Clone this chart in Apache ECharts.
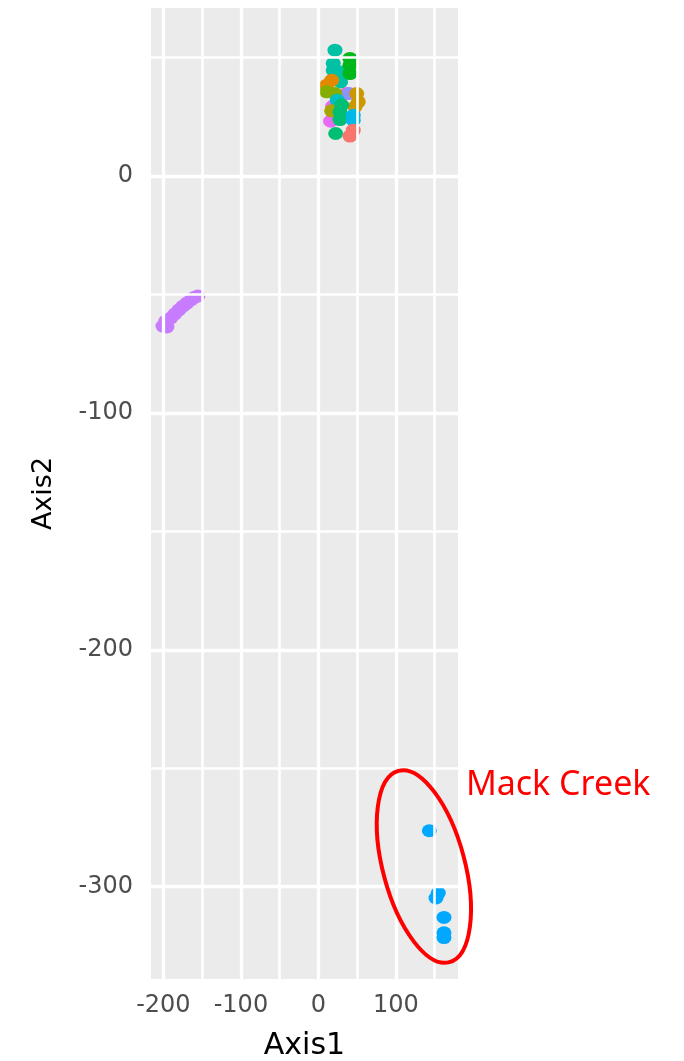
<!DOCTYPE html>
<html>
<head>
<meta charset="utf-8">
<title>Axis1 / Axis2</title>
<script src="https://cdn.jsdelivr.net/npm/echarts@6/dist/echarts.min.js"></script>
<style>
  html, body { margin: 0; padding: 0; background: #fff; }
  #container { width: 684px; height: 1061px; }
</style>
</head>
<body>
<div id="container"></div>
<script type="text/javascript">
// axis ranges and grid line positions
var xRange = [-216, 180];
var yRange = [-339, 71];
var xMajor = [-200, -100, 0, 100];
var xMinor = [-150, -50, 50, 150];
var yMajor = [-300, -200, -100, 0];
var yMinor = [-250, -150, -50, 50];

// points per group [Axis1, Axis2]
var magentaPts = [[18.3, 29.5], [26, 26], [15.7, 23.2]];
var pinkPts = [[36.4, 34.9]];
var lavenderPts = [[39.5, 34.9]];
var tealPts = [[21.3, 53.2], [19.1, 47.6], [19.1, 44.7], [27.7, 44.0], [28.6, 39.8]];
var greenPts = [[40.6, 49.7], [40.6, 46.8], [40.6, 43.3]];
var orangePts = [[17.0, 40.5], [10.6, 38.4]];
var yellowGreenPts = [[10.6, 35.6], [21.3, 34.9]];
var goldPts = [[49.3, 34.9], [51.4, 31.4], [47.1, 29.2]];
var cyanPts = [[24.3, 32.1]];
var olivePts = [[17.0, 27.6]];
var seaGreenPts = [[29.9, 30.0], [27.7, 27.1], [27.7, 23.9], [22.2, 18.0]];
var skyBluePts = [[44.9, 25.7], [44.9, 23.6]];
var salmonPts = [[44.9, 19.4], [40.6, 16.9]];
var purplePts = [[-200.6, -63.3], [-195.5, -63.7], [-196.8, -61.2], [-190.3, -59.9],
  [-185.2, -58.2], [-180.0, -56.5], [-174.8, -54.9], [-169.7, -53.6],
  [-164.5, -52.3], [-159.4, -51.1], [-155.5, -50.6]];
var mackCreekPts = [[143, -276.4], [154.6, -302.7], [151.6, -304.8], [161.9, -313],
  [161.9, -319.5], [161.9, -321.5]];

var groups = [
  ['magenta', magentaPts, '#E76BF3'],
  ['pink', pinkPts, '#FF61C9'],
  ['lavender', lavenderPts, '#8F91FF'],
  ['teal', tealPts, '#00C1A3'],
  ['green', greenPts, '#00B81C'],
  ['orange', orangePts, '#E38900'],
  ['yellowgreen', yellowGreenPts, '#86AE00'],
  ['gold', goldPts, '#CC9800'],
  ['cyan', cyanPts, '#00BFC4'],
  ['olive', olivePts, '#A8A500'],
  ['seagreen', seaGreenPts, '#00BF74'],
  ['skyblue', skyBluePts, '#00B9E8'],
  ['salmon', salmonPts, '#F8766D'],
  ['purple', purplePts, '#C77CFF'],
  ['Mack Creek', mackCreekPts, '#00A9FF']
];

// annotation ellipse centre in data units
var ellipseCenter = [136, -291.5];

var container = document.getElementById('container');
var myChart = echarts.init(container);

function gridLines(vals, key, w) {
  return vals.map(function (v) {
    var d = {lineStyle: {width: w}};
    d[key] = v;
    return d;
  });
}

var series = [{
  type: 'scatter',
  data: [],
  z: 1,
  silent: true,
  markLine: {
    silent: true,
    symbol: ['none', 'none'],
    animation: false,
    label: {show: false},
    lineStyle: {color: '#FFFFFF', type: 'solid'},
    data: gridLines(xMinor, 'xAxis', 2.6).concat(gridLines(yMinor, 'yAxis', 2.6),
      gridLines(xMajor, 'xAxis', 3.3), gridLines(yMajor, 'yAxis', 3.3))
  }
}];
groups.forEach(function (g) {
  series.push({
    name: g[0],
    type: 'scatter',
    z: 2,
    data: g[1],
    symbol: 'circle',
    symbolSize: [15, 13],
    itemStyle: {color: g[2], opacity: 1},
    emphasis: {disabled: true}
  });
});

var labelFont = {fontFamily: 'DejaVu Sans', fontSize: 24, color: '#4D4D4D'};

myChart.setOption({
  animation: false,
  grid: {
    left: 151, top: 8, width: 307, height: 971,
    outerBoundsMode: 'none',
    containLabel: false,
    show: true, backgroundColor: '#EBEBEB', borderWidth: 0
  },
  xAxis: {
    type: 'value',
    min: xRange[0], max: xRange[1],
    name: 'Axis1',
    nameLocation: 'middle',
    nameGap: 52,
    nameTextStyle: {fontFamily: 'DejaVu Sans', fontSize: 30, color: '#000000'},
    axisLine: {show: false},
    axisTick: {show: true, customValues: xMajor, length: 8, lineStyle: {color: '#333333', width: 3}},
    axisLabel: Object.assign({customValues: xMajor, margin: 15}, labelFont),
    splitLine: {show: false}
  },
  yAxis: {
    type: 'value',
    min: yRange[0], max: yRange[1],
    name: 'Axis2',
    nameLocation: 'middle',
    nameRotate: 90,
    nameGap: 94,
    nameTextStyle: {fontFamily: 'DejaVu Sans', fontSize: 27, color: '#000000'},
    axisLine: {show: false},
    axisTick: {show: true, customValues: yMajor, length: 10, lineStyle: {color: '#333333', width: 3}},
    axisLabel: Object.assign({customValues: yMajor, margin: 18}, labelFont),
    splitLine: {show: false}
  },
  series: series
});

// red ellipse and label around the Mack Creek points
var c = myChart.convertToPixel({xAxisIndex: 0, yAxisIndex: 0}, ellipseCenter);
myChart.setOption({
  graphic: [{
    type: 'ellipse',
    x: c[0], y: c[1],
    rotation: 0.26,
    shape: {cx: 0, cy: 0, rx: 41, ry: 99},
    style: {fill: 'none', stroke: '#FF0000', lineWidth: 4},
    z: 10
  }, {
    type: 'text',
    x: c[0] + 42, y: c[1] - 81,
    style: {
      text: 'Mack Creek',
      fontFamily: 'Noto Sans',
      fontSize: 34,
      fill: '#FF0000',
      align: 'left',
      verticalAlign: 'middle'
    },
    z: 10
  }]
});
</script>
</body>
</html>
